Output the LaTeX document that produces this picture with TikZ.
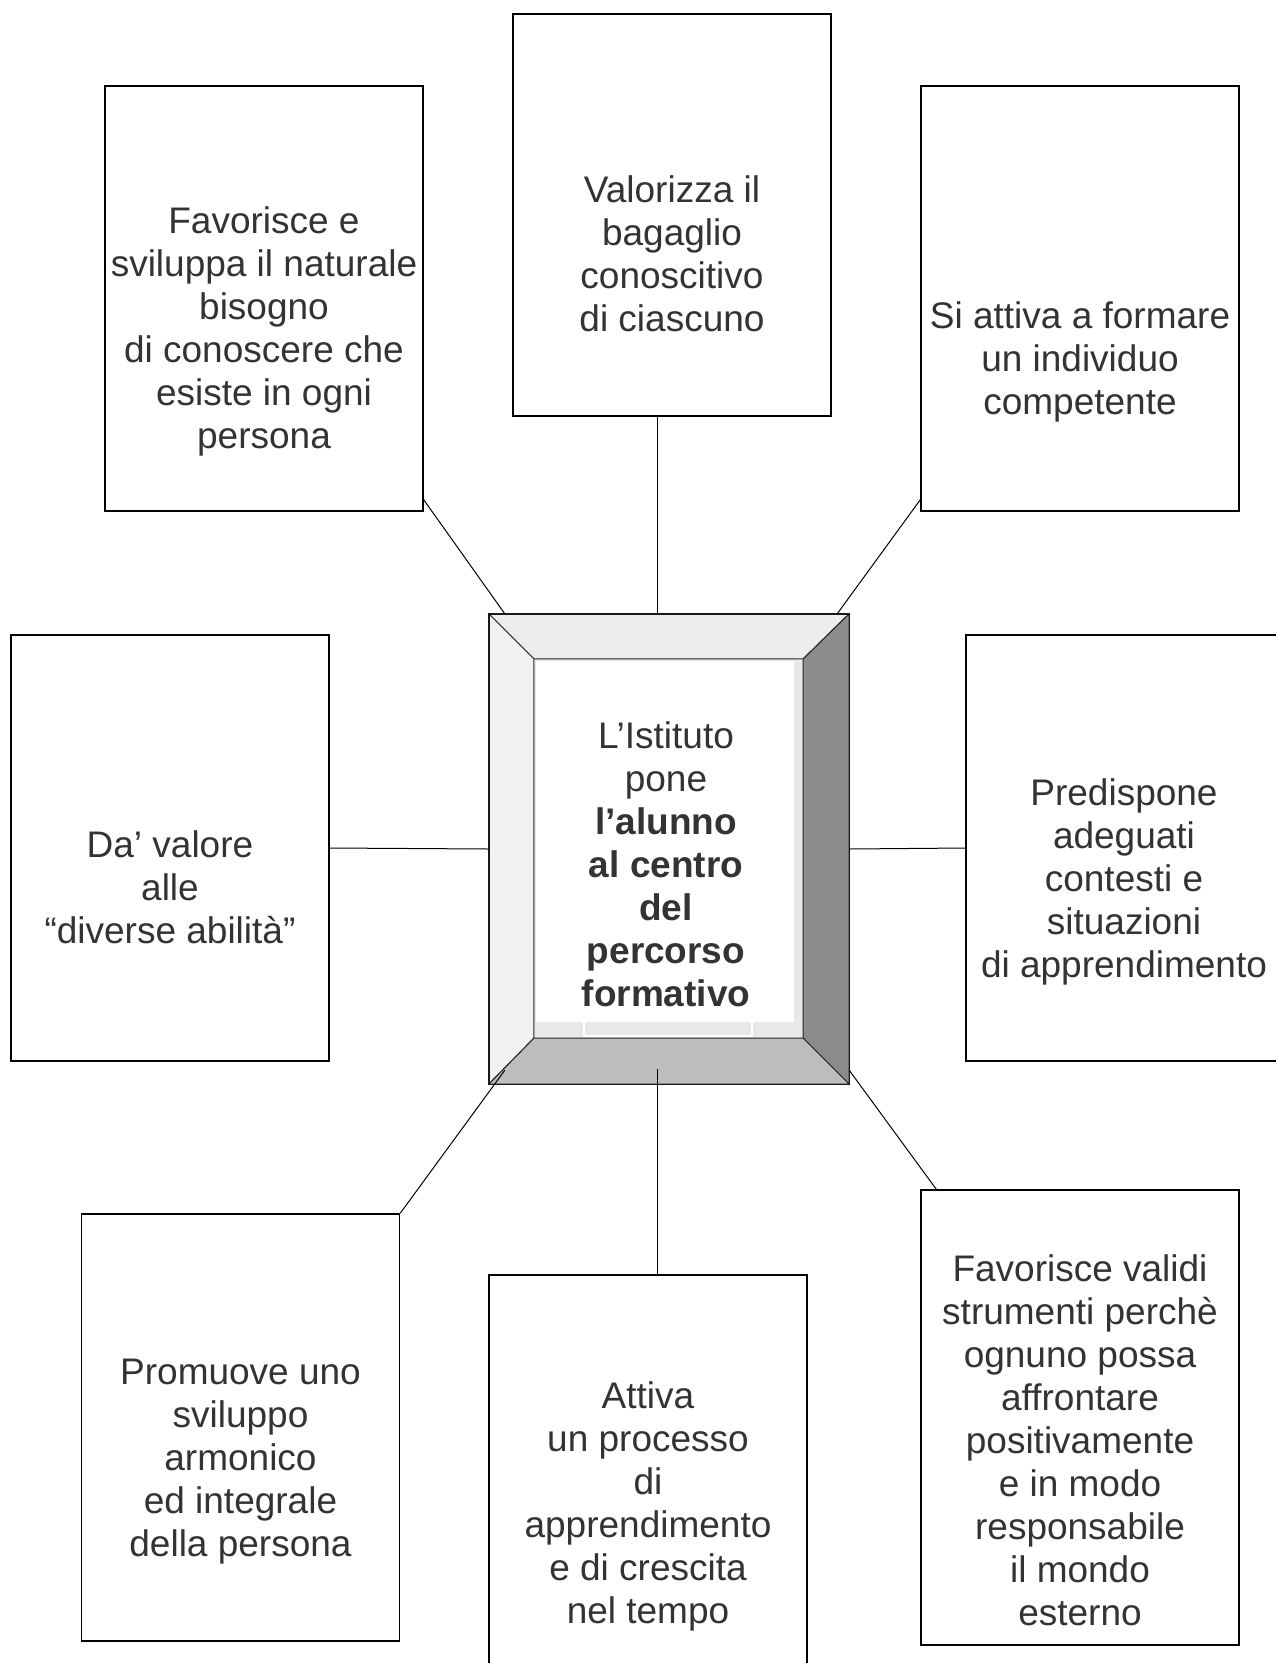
\documentclass[tikz,border=0pt]{standalone}
\usepackage{fontspec}
\setmainfont{Liberation Sans}
\definecolor{txt}{HTML}{333333}
\definecolor{bevtop}{HTML}{EDEDED}
\definecolor{bevleft}{HTML}{F2F2F2}
\definecolor{bevright}{HTML}{8C8C8C}
\definecolor{bevbottom}{HTML}{BDBDBD}
\definecolor{innergray}{HTML}{E8E8E8}
\tikzset{
  box/.style={draw=black, line width=1.4pt, fill=white, inner sep=0pt, minimum width=318pt},
  lbl/.style={align=center, text=txt, font=\fontsize{37}{43}\selectfont, inner sep=0pt},
  conn/.style={draw=black, line width=1pt},
  bevel/.style={draw=black!85, line width=1pt},
}
\begin{document}
\begin{tikzpicture}[x=1pt,y=-1pt]
\useasboundingbox (0,0) rectangle (1276,1663);
\fill[white] (0,0) rectangle (1276,1663);

% outer boxes
\node[box, minimum height=425pt] (tl) at (264,298.5) {};
\node[box, minimum height=402pt] (tc) at (672,215) {};
\node[box, minimum height=425pt] (tr) at (1080,298.5) {};
\node[box, minimum height=426pt] (ml) at (170,848) {};
\node[box, minimum height=426pt] (mr) at (1125,848) {};
\node[box, minimum height=427pt] (bl) at (240.5,1427.5) {};
\node[box, minimum height=455pt] (bc) at (648,1502.5) {};
\node[box, minimum height=455pt] (br) at (1080,1417.5) {};

\node[lbl] (tlt) at (264,331) {Favorisce e\\sviluppa il naturale\\bisogno\\di conoscere che\\esiste in ogni\\persona};
\node[lbl] (tct) at (672,253.5) {Valorizza il\\bagaglio\\conoscitivo\\di ciascuno};
\node[lbl] (trt) at (1080,362) {Si attiva a formare\\un individuo\\competente};
\node[lbl] (mlt) at (170,887) {Da’ valore\\alle\\“diverse abilità”};
\node[lbl] (mrt) at (1124,881.5) {Predispone\\adeguati\\contesti e\\situazioni\\di apprendimento};
\node[lbl] (blt) at (240.5,1462) {Promuove uno\\sviluppo\\armonico\\ed integrale\\della persona};
\node[lbl] (bct) at (648,1506) {Attiva\\un processo\\di\\apprendimento\\e di crescita\\nel tempo};
\node[lbl] (brt) at (1080,1440) {Favorisce validi\\strumenti perchè\\ognuno possa\\affrontare\\positivamente\\e in modo\\responsabile\\il mondo\\esterno};

% central bevelled frame
\node[inner sep=0pt, minimum width=360pt, minimum height=470pt] (c) at (669,849) {};
\node[inner sep=0pt, minimum width=269pt, minimum height=379pt] (ci) at (668.5,848.5) {};
\fill[innergray] (ci.north west) rectangle (ci.south east);
\coordinate (wtl) at (536,661);
\coordinate (wbr) at (794,1022);
\fill[white] (wtl) rectangle (wbr);
\coordinate (stl) at (584,1022);
\coordinate (sbr) at (752,1036);
\draw[white, line width=1.5pt] (stl) |- (sbr) -- (sbr |- stl);
\filldraw[bevel, fill=bevtop] (c.north west) -- (c.north east) -- (ci.north east) -- (ci.north west) -- cycle;
\filldraw[bevel, fill=bevleft] (c.north west) -- (c.south west) -- (ci.south west) -- (ci.north west) -- cycle;
\filldraw[bevel, fill=bevright] (c.north east) -- (c.south east) -- (ci.south east) -- (ci.north east) -- cycle;
\filldraw[bevel, fill=bevbottom] (c.south west) -- (c.south east) -- (ci.south east) -- (ci.south west) -- cycle;
\draw[black!90, line width=1.4pt] (c.north west) rectangle (c.south east);
\node[lbl] (ct) at (666,864.5) {L’Istituto\\pone\\\textbf{l’alunno}\\\textbf{al centro}\\\textbf{del}\\\textbf{percorso}\\\textbf{formativo}};

% connectors
\draw[conn] ([yshift=12pt]tl.south east) -- ([xshift=16pt]c.north west);
\draw[conn] ([xshift=-15pt]tc.south) -- ([xshift=-12pt]c.north);
\draw[conn] ([yshift=12pt]tr.south west) -- ([xshift=-12pt]c.north east);
\draw[conn] (ml.east) -- (c.west);
\draw[conn] (c.east) -- (mr.west);
\draw[conn] ([shift={(16pt,14pt)}]c.south west) -- (bl.north east);
\draw[conn] ([shift={(-12pt,15pt)}]c.south) -- ([xshift=9pt]bc.north);
\draw[conn] ([yshift=14pt]c.south east) -- ([xshift=16pt]br.north west);
\end{tikzpicture}
\end{document}
